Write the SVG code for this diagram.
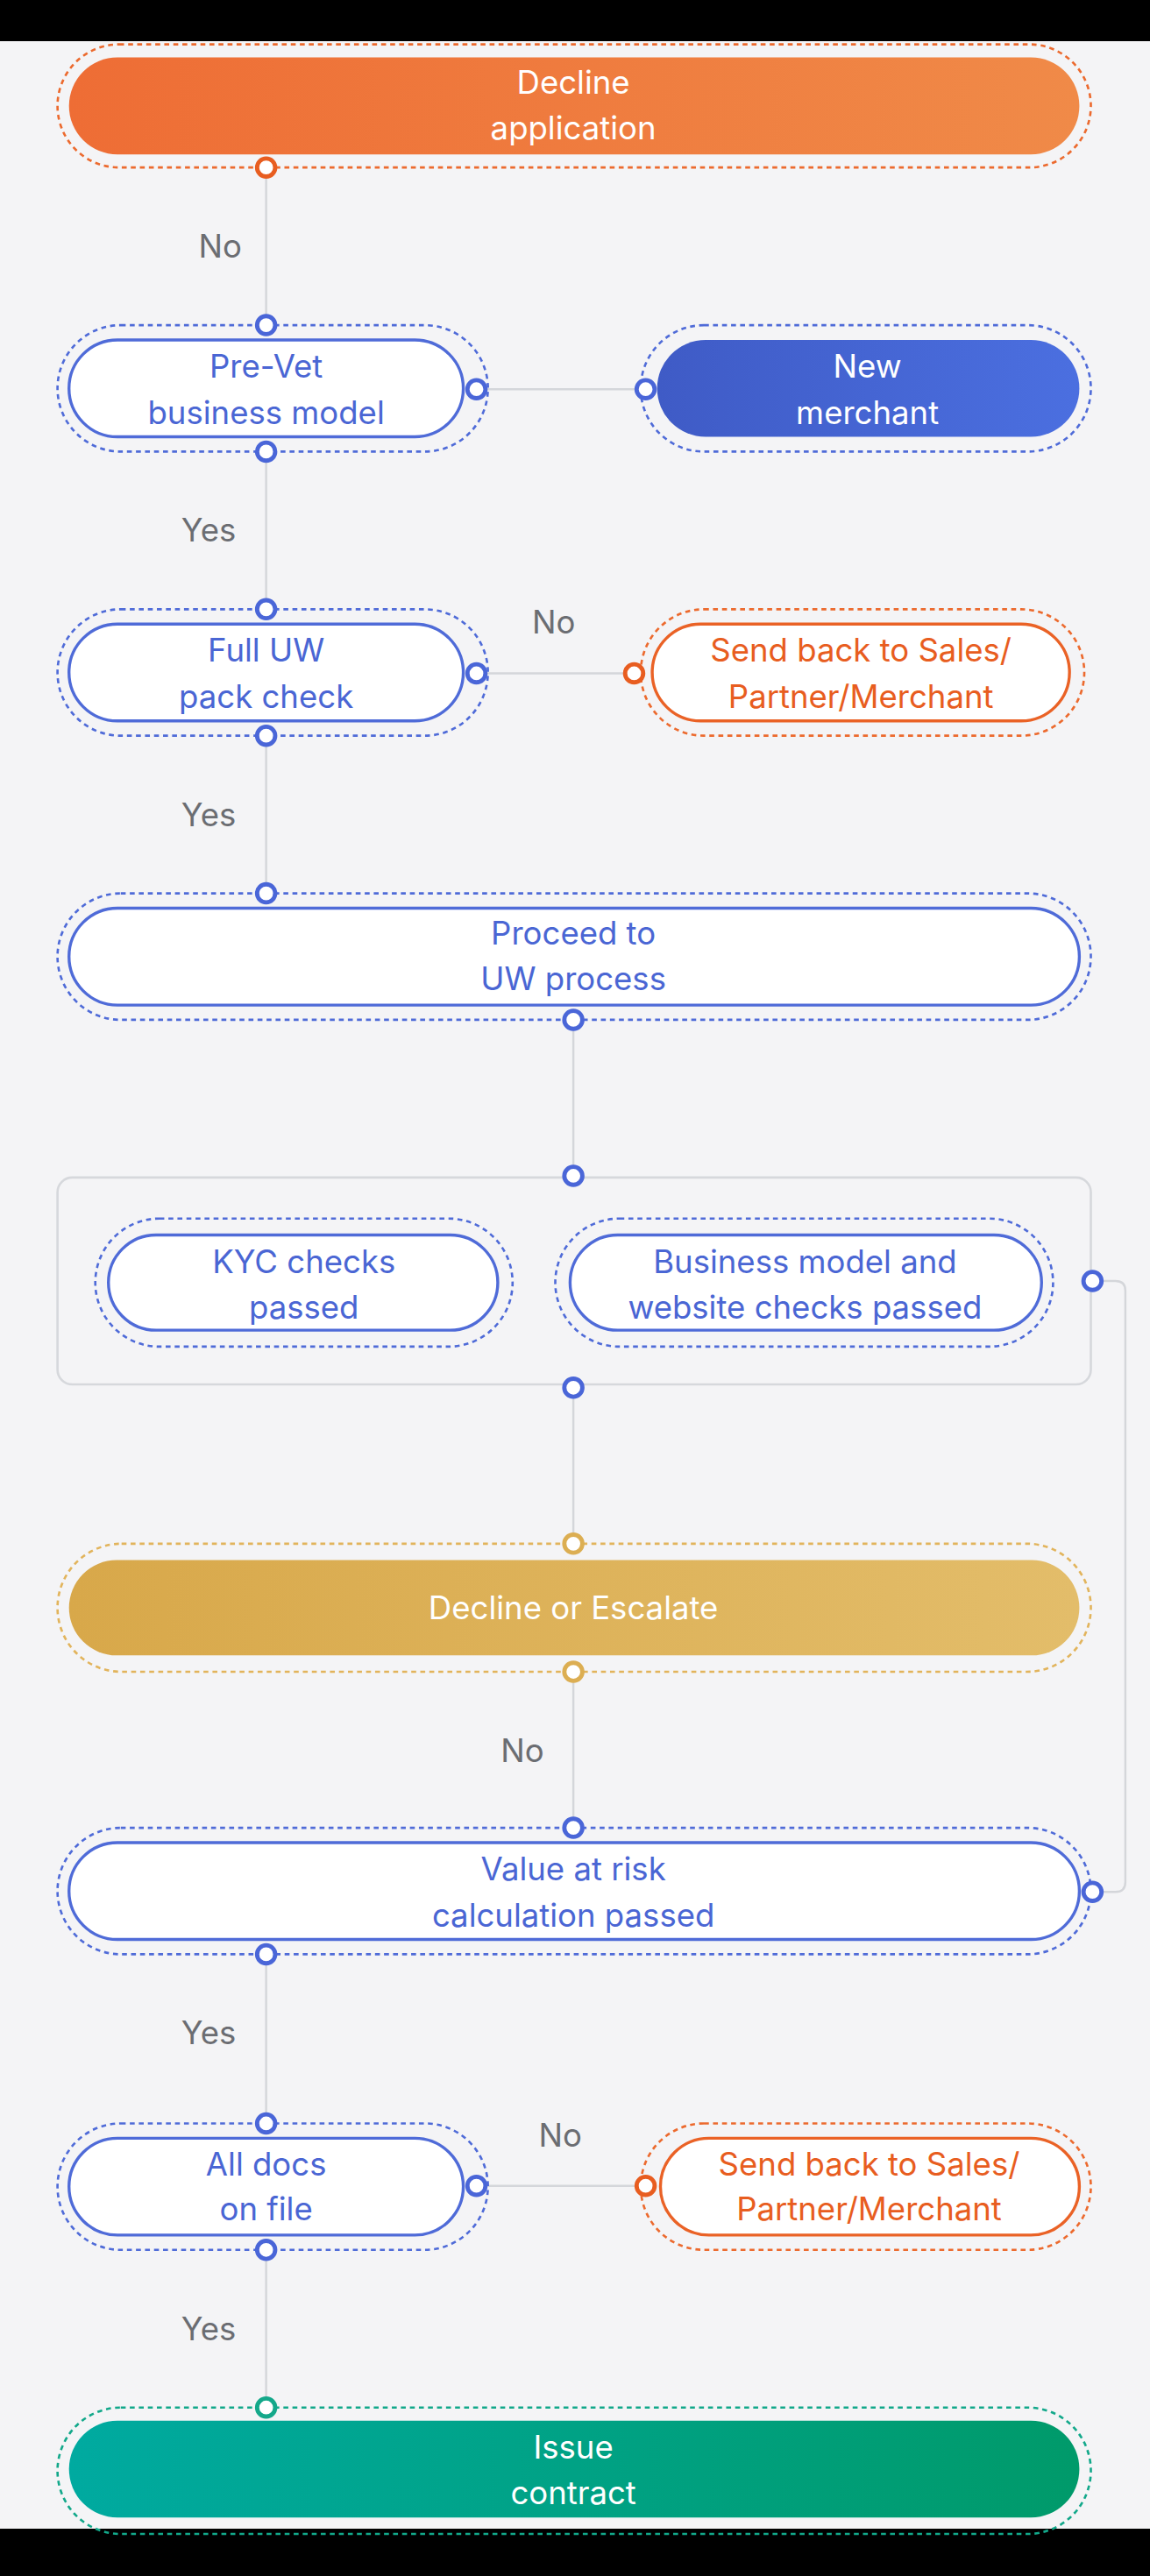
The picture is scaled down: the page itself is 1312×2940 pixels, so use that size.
<svg xmlns="http://www.w3.org/2000/svg" width="1312" height="2940" viewBox="0 0 1312 2940">
<defs>
<linearGradient id="gO" x1="0" x2="1"><stop offset="0" stop-color="#ee6d35"/><stop offset="1" stop-color="#f08a48"/></linearGradient>
<linearGradient id="gB" x1="0" x2="1"><stop offset="0" stop-color="#3f5bc6"/><stop offset="1" stop-color="#4b6fe0"/></linearGradient>
<linearGradient id="gY" x1="0" x2="1"><stop offset="0" stop-color="#d8a84a"/><stop offset="1" stop-color="#e3bd6a"/></linearGradient>
<linearGradient id="gG" x1="0" x2="1"><stop offset="0" stop-color="#00aaa0"/><stop offset="1" stop-color="#009a6a"/></linearGradient>
<style>
text{font-family:Inter,"Noto Sans","Liberation Sans",sans-serif;font-size:19.5px;text-anchor:middle}
.w{fill:#fff}.b{fill:#4a66d4}.o{fill:#e85d20}.l{fill:#6b6d72}
.db{fill:none;stroke:#4f6bd8;stroke-width:1.4;stroke-dasharray:3 2.5}
.do{fill:none;stroke:#ec6a2e;stroke-width:1.4;stroke-dasharray:3 2.5}
.dy{fill:none;stroke:#e2b45c;stroke-width:1.4;stroke-dasharray:3 2.5}
.dg{fill:none;stroke:#12a88a;stroke-width:1.4;stroke-dasharray:3 2.5}
.ib{fill:#fff;stroke:#4f6bd8;stroke-width:1.8}
.io{fill:#fff;stroke:#ea6226;stroke-width:1.8}
.pb{fill:#fff;stroke:#4a66d8;stroke-width:2.6}
.po{fill:#fff;stroke:#e85d20;stroke-width:2.6}
.py{fill:#fff;stroke:#dcae52;stroke-width:2.6}
.pg{fill:#fff;stroke:#14a88a;stroke-width:2.6}
.c{fill:none;stroke:#d4d6da;stroke-width:1.3}
</style>
</defs>
<rect width="1312" height="2940" fill="#f4f4f6"/>
<rect width="1312" height="47" fill="#000"/>
<rect y="2886" width="1312" height="54" fill="#000"/>
<g transform="scale(1.874286)">
<g id="connectors">
<line class="c" x1="162" y1="102" x2="162" y2="198"/>
<line class="c" x1="290" y1="237" x2="393" y2="237"/>
<line class="c" x1="162" y1="275" x2="162" y2="371"/>
<line class="c" x1="290" y1="410" x2="386" y2="410"/>
<line class="c" x1="162" y1="448" x2="162" y2="544"/>
<line class="c" x1="349" y1="621" x2="349" y2="716"/>
<line class="c" x1="349" y1="845" x2="349" y2="940"/>
<line class="c" x1="349" y1="1018" x2="349" y2="1113"/>
<path class="c" d="M665 780 H679 Q685 780 685 786 V1146 Q685 1152 679 1152 H665"/>
<line class="c" x1="162" y1="1190" x2="162" y2="1293"/>
<line class="c" x1="290" y1="1331" x2="393" y2="1331"/>
<line class="c" x1="162" y1="1370" x2="162" y2="1466"/>
<text class="l" x="134" y="157">No</text>
<text class="l" x="127" y="330">Yes</text>
<text class="l" x="337" y="386">No</text>
<text class="l" x="127" y="503">Yes</text>
<text class="l" x="318" y="1073">No</text>
<text class="l" x="127" y="1245">Yes</text>
<text class="l" x="341" y="1307">No</text>
<text class="l" x="127" y="1425">Yes</text>
</g>
<g id="decline-app">
<rect class="do" x="35" y="27" width="629" height="75" rx="37.5"/>
<rect x="42" y="35" width="615" height="59" rx="29.5" fill="url(#gO)"/>
<text class="w" x="349" y="57">Decline</text><text class="w" x="349" y="85">application</text>
<circle class="po" cx="162" cy="102" r="5.5"/>
</g>
<g id="prevet">
<rect class="db" x="35" y="198" width="262" height="77" rx="38.5"/>
<rect class="ib" x="42" y="207" width="240" height="59" rx="29.5"/>
<text class="b" x="162" y="230">Pre-Vet</text><text class="b" x="162" y="258">business model</text>
<circle class="pb" cx="162" cy="198" r="5.5"/><circle class="pb" cx="290" cy="237" r="5.5"/><circle class="pb" cx="162" cy="275" r="5.5"/>
</g>
<g id="new-merchant">
<rect class="db" x="390" y="198" width="274" height="77" rx="38.5"/>
<rect x="400" y="207" width="257" height="59" rx="29.5" fill="url(#gB)"/>
<text class="w" x="528" y="230">New</text><text class="w" x="528" y="258">merchant</text>
<circle class="pb" cx="393" cy="237" r="5.5"/>
</g>
<g id="full-uw">
<rect class="db" x="35" y="371" width="262" height="77" rx="38.5"/>
<rect class="ib" x="42" y="380" width="240" height="59" rx="29.5"/>
<text class="b" x="162" y="403">Full UW</text><text class="b" x="162" y="431">pack check</text>
<circle class="pb" cx="162" cy="371" r="5.5"/><circle class="pb" cx="290" cy="410" r="5.5"/><circle class="pb" cx="162" cy="448" r="5.5"/>
</g>
<g id="send-back-1">
<rect class="do" x="390" y="371" width="270" height="77" rx="38.5"/>
<rect class="io" x="397" y="380" width="254" height="59" rx="29.5"/>
<text class="o" x="524" y="403">Send back to Sales/</text><text class="o" x="524" y="431">Partner/Merchant</text>
<circle class="po" cx="386" cy="410" r="5.5"/>
</g>
<g id="proceed">
<rect class="db" x="35" y="544" width="629" height="77" rx="38.5"/>
<rect class="ib" x="42" y="553" width="615" height="59" rx="29.5"/>
<text class="b" x="349" y="575">Proceed to</text><text class="b" x="349" y="603">UW process</text>
<circle class="pb" cx="162" cy="544" r="5.5"/><circle class="pb" cx="349" cy="621" r="5.5"/>
</g>
<g id="checks-group">
<rect x="35" y="717" width="629" height="126" rx="9" fill="none" stroke="#d6d8dc" stroke-width="1.4"/>
<circle class="pb" cx="349" cy="716" r="5.5"/><circle class="pb" cx="349" cy="845" r="5.5"/><circle class="pb" cx="665" cy="780" r="5.5"/>
</g>
<g id="kyc">
<rect class="db" x="58" y="742" width="254" height="78" rx="39"/>
<rect class="ib" x="66" y="752" width="237" height="58" rx="29"/>
<text class="b" x="185" y="775">KYC checks</text><text class="b" x="185" y="803">passed</text>
</g>
<g id="bm-checks">
<rect class="db" x="338" y="742" width="303" height="78" rx="39"/>
<rect class="ib" x="347" y="752" width="287" height="58" rx="29"/>
<text class="b" x="490" y="775">Business model and</text><text class="b" x="490" y="803">website checks passed</text>
</g>
<g id="decline-escalate">
<rect class="dy" x="35" y="940" width="629" height="78" rx="39"/>
<rect x="42" y="950" width="615" height="58" rx="29" fill="url(#gY)"/>
<text class="w" x="349" y="986">Decline or Escalate</text>
<circle class="py" cx="349" cy="940" r="5.5"/><circle class="py" cx="349" cy="1018" r="5.5"/>
</g>
<g id="var">
<rect class="db" x="35" y="1113" width="629" height="77" rx="38.5"/>
<rect class="ib" x="42" y="1122" width="615" height="59" rx="29.5"/>
<text class="b" x="349" y="1145">Value at risk</text><text class="b" x="349" y="1173">calculation passed</text>
<circle class="pb" cx="349" cy="1113" r="5.5"/><circle class="pb" cx="665" cy="1152" r="5.5"/><circle class="pb" cx="162" cy="1190" r="5.5"/>
</g>
<g id="all-docs">
<rect class="db" x="35" y="1293" width="262" height="77" rx="38.5"/>
<rect class="ib" x="42" y="1302" width="240" height="59" rx="29.5"/>
<text class="b" x="162" y="1325">All docs</text><text class="b" x="162" y="1352">on file</text>
<circle class="pb" cx="162" cy="1293" r="5.5"/><circle class="pb" cx="290" cy="1331" r="5.5"/><circle class="pb" cx="162" cy="1370" r="5.5"/>
</g>
<g id="send-back-2">
<rect class="do" x="390" y="1293" width="274" height="77" rx="38.5"/>
<rect class="io" x="402" y="1302" width="255" height="59" rx="29.5"/>
<text class="o" x="529" y="1325">Send back to Sales/</text><text class="o" x="529" y="1352">Partner/Merchant</text>
<circle class="po" cx="393" cy="1331" r="5.5"/>
</g>
<g id="issue-contract">
<rect class="dg" x="35" y="1466" width="629" height="77" rx="38.5"/>
<rect x="42" y="1474" width="615" height="59" rx="29.5" fill="url(#gG)"/>
<text class="w" x="349" y="1497">Issue</text><text class="w" x="349" y="1525">contract</text>
<circle class="pg" cx="162" cy="1466" r="5.5"/>
</g>
</g>
</svg>
